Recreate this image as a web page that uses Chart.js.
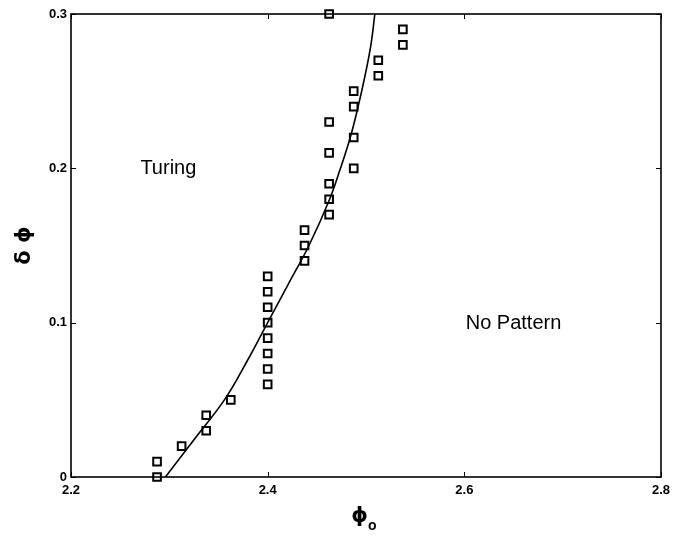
<!DOCTYPE html>
<html>
<head>
<meta charset="utf-8">
<script src="https://cdn.jsdelivr.net/npm/chart.js@4/dist/chart.umd.min.js"></script>
<style>
  html, body { margin: 0; padding: 0; background: #fff; }
  #wrap { width: 683px; height: 536px; position: relative; }
</style>
</head>
<body>
<div id="wrap"><canvas id="c" width="683" height="536"></canvas></div>
<script>
// Measured states: mean density phi_o and amplitude delta-phi
const phiO     = [2.2875, 2.2875, 2.3125, 2.3375, 2.3375, 2.3625,
                  2.40, 2.40, 2.40, 2.40, 2.40, 2.40, 2.40, 2.40,
                  2.4375, 2.4375, 2.4375,
                  2.4625, 2.4625, 2.4625, 2.4875, 2.4625, 2.4875, 2.4625,
                  2.4875, 2.4875, 2.5125, 2.5125, 2.5375, 2.5375, 2.4625];
const deltaPhi = [0.00, 0.01, 0.02, 0.03, 0.04, 0.05,
                  0.06, 0.07, 0.08, 0.09, 0.10, 0.11, 0.12, 0.13,
                  0.14, 0.15, 0.16,
                  0.17, 0.18, 0.19, 0.20, 0.21, 0.22, 0.23,
                  0.24, 0.25, 0.26, 0.27, 0.28, 0.29, 0.30];

// Theoretical boundary between Turing and no-pattern regions
const boundaryPhiO  = [2.296, 2.326, 2.356, 2.379, 2.400, 2.421, 2.442, 2.463, 2.474, 2.484, 2.492, 2.499, 2.505, 2.509];
const boundaryDelta = [0.000, 0.025, 0.050, 0.075, 0.100, 0.125, 0.150, 0.180, 0.200, 0.220, 0.240, 0.260, 0.280, 0.300];

// Axis ticks
const xTickValues = [2.2, 2.4, 2.6, 2.8];
const xTickLabels = ['2.2', '2.4', '2.6', '2.8'];
const yTickValues = [0, 0.1, 0.2, 0.3];
const yTickLabels = ['0', '0.1', '0.2', '0.3'];

const FONT = '"Liberation Sans", Arial, Helvetica, "DejaVu Sans", sans-serif';
const GREEK = '"DejaVu Sans", "Liberation Sans", sans-serif';

const points = phiO.map((x, i) => ({ x: x, y: deltaPhi[i] }));
const boundary = boundaryPhiO.map((x, i) => ({ x: x, y: boundaryDelta[i] }));

// Frame, inward tick marks on all four sides, region labels and axis titles
const framePlugin = {
  id: 'frame',
  afterDatasetsDraw(chart) {
    const { ctx, chartArea: a, scales } = chart;
    const xs = scales.x, ys = scales.y;
    ctx.save();
    ctx.strokeStyle = '#000';
    ctx.lineWidth = 1.6;
    ctx.strokeRect(a.left, a.top, a.right - a.left, a.bottom - a.top);
    ctx.lineWidth = 1;
    const tl = 5;
    ctx.beginPath();
    xTickValues.forEach(v => {
      const px = Math.round(xs.getPixelForValue(v)) + 0.5;
      ctx.moveTo(px, a.bottom); ctx.lineTo(px, a.bottom - tl);
      ctx.moveTo(px, a.top); ctx.lineTo(px, a.top + tl);
    });
    yTickValues.forEach(v => {
      const py = Math.round(ys.getPixelForValue(v)) + 0.5;
      ctx.moveTo(a.left, py); ctx.lineTo(a.left + tl, py);
      ctx.moveTo(a.right, py); ctx.lineTo(a.right - tl, py);
    });
    ctx.stroke();

    // Region labels
    ctx.fillStyle = '#000';
    ctx.font = '20px ' + FONT;
    ctx.textAlign = 'center';
    ctx.textBaseline = 'middle';
    ctx.fillText('Turing', xs.getPixelForValue(2.299), ys.getPixelForValue(0.2));
    ctx.fillText('No Pattern', xs.getPixelForValue(2.65), ys.getPixelForValue(0.0995));

    // x-axis title: phi with subscript o
    const cx = (a.left + a.right) / 2;
    ctx.font = 'bold 21px ' + GREEK;
    ctx.textAlign = 'right';
    ctx.textBaseline = 'alphabetic';
    ctx.fillText('\u03D5', cx + 2, 522);
    ctx.font = 'bold 14px ' + FONT;
    ctx.textAlign = 'left';
    ctx.fillText('o', cx + 2, 530);

    // y-axis title: delta phi, rotated
    ctx.translate(25, (a.top + a.bottom) / 2);
    ctx.rotate(-Math.PI / 2);
    ctx.font = 'bold 21px ' + GREEK;
    ctx.textAlign = 'center';
    ctx.textBaseline = 'middle';
    ctx.fillText('\u03B4 \u03D5', 0, 0);
    ctx.restore();
  }
};

new Chart(document.getElementById('c'), {
  type: 'scatter',
  data: {
    datasets: [
      {
        label: 'boundary',
        data: boundary,
        showLine: true,
        borderColor: '#000',
        borderWidth: 1.6,
        pointRadius: 0,
        pointHoverRadius: 0,
        tension: 0.4,
        fill: false
      },
      {
        label: 'experiment',
        data: points,
        showLine: false,
        pointStyle: 'rect',
        pointRadius: 5.4,
        pointBorderWidth: 2,
        pointBorderColor: '#000',
        pointBackgroundColor: 'rgba(255,255,255,0)',
        clip: false
      }
    ]
  },
  options: {
    responsive: false,
    animation: false,
    events: [],
    layout: { padding: { left: 0, right: 22, top: 14, bottom: 0 } },
    plugins: { legend: { display: false }, tooltip: { enabled: false } },
    scales: {
      x: {
        type: 'linear',
        min: 2.2, max: 2.8,
        afterBuildTicks(s) { s.ticks = xTickValues.map(v => ({ value: v })); },
        afterFit(s) { s.height = 59; },
        grid: { display: false, drawTicks: false },
        border: { display: false },
        ticks: {
          padding: 6,
          color: '#000',
          font: { family: FONT, size: 13, weight: 'bold' },
          maxRotation: 0,
          callback: (v) => { const i = xTickValues.findIndex(t => Math.abs(t - v) < 1e-9); return i >= 0 ? xTickLabels[i] : ''; }
        }
      },
      y: {
        type: 'linear',
        min: 0, max: 0.3,
        afterBuildTicks(s) { s.ticks = yTickValues.map(v => ({ value: v })); },
        afterFit(s) { s.width = 71; },
        grid: { display: false, drawTicks: false },
        border: { display: false },
        ticks: {
          padding: 4,
          color: '#000',
          font: { family: FONT, size: 13, weight: 'bold' },
          callback: (v) => { const i = yTickValues.findIndex(t => Math.abs(t - v) < 1e-9); return i >= 0 ? yTickLabels[i] : ''; }
        }
      }
    }
  },
  plugins: [framePlugin]
});
</script>
</body>
</html>
